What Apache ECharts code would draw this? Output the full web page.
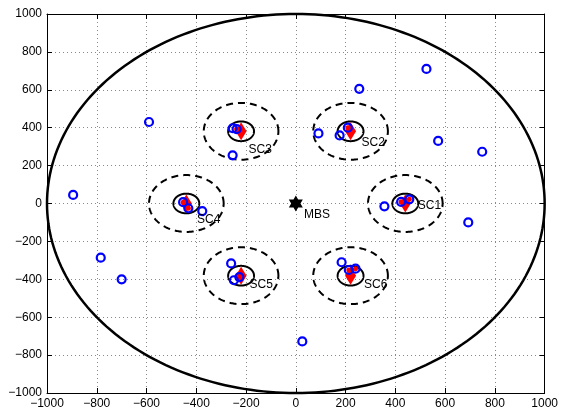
<!DOCTYPE html>
<html><head><meta charset="utf-8">
<script src="https://cdn.jsdelivr.net/npm/echarts@6/dist/echarts.min.js"></script>
<style>html,body{margin:0;padding:0;background:#fff}#c{width:561px;height:412px}</style>
</head><body><div id="c"></div>
<script>
// ---- data ----
const axisMin = -1000, axisMax = 1000, tickStep = 200;
const mbs = [0, 0];
const mbsLabel = 'MBS';
const mbsLabelPos = [31, -61];
const macroRadius = 1000;
const scNames = ['SC1', 'SC2', 'SC3', 'SC4', 'SC5', 'SC6'];
const scX = [440, 220, -220, -440, -220, 220];
const scY = [0, 381, 381, 0, -381, -381];
const scCoverRadius = 150;
const scInnerRadius = 52;
const scLabelX = [488, 262, -192, -399, -188, 272];
const scLabelY = [-13, 321, 282, -83, -430, -430];
const userX = [-590, -895, -254, -238, -254, 525, 255, 91, 176, 209, 572, 749, 356, 423, 456, 693, 184, 213, 240, 26, -784, -700, -260, -249, -227, -453, -432, -376];
const userY = [430, 45, 397, 393, 254, 710, 605, 370, 359, 400, 330, 273, -15, 9, 22, -100, -310, -351, -344, -728, -286, -400, -316, -405, -388, 7, -25, -40];
const servedX = [423, 456, 209, -238, -453, -432, -227, 213, 240];
const servedY = [9, 22, 400, 393, 7, -25, -388, -351, -344];

// ---- build ----
const font = 'Liberation Sans, Arial, sans-serif';
const minus = v => String(v).replace('-', '\u2212');
function ringRenderer(dashed, width) {
  return function (params, api) {
    const cx = api.value(0), cy = api.value(1), r = api.value(2);
    const pts = [];
    const n = 240;
    for (let i = 0; i <= n; i++) {
      const t = i / n * 2 * Math.PI;
      pts.push(api.coord([cx + r * Math.cos(t), cy + r * Math.sin(t)]));
    }
    return {
      type: 'polyline', shape: { points: pts },
      style: { stroke: '#000', fill: null, lineWidth: width, lineDash: dashed ? [7, 5] : null }
    };
  };
}
const hexagram = 'path://M0,-10 L2.887,-5 L8.66,-5 L5.774,0 L8.66,5 L2.887,5 L0,10 L-2.887,5 L-8.66,5 L-5.774,0 L-8.66,-5 L-2.887,-5 Z';

const baseX = {
  type: 'value', min: axisMin, max: axisMax, interval: tickStep,
  axisLine: { show: true, onZero: false, lineStyle: { color: '#000', width: 1 } },
  axisTick: { show: true, inside: true, length: 5, lineStyle: { color: '#000' } },
  splitLine: { show: false }
};
const option = {
  animation: false,
  grid: { left: 47, right: 15, top: 14, bottom: 19, containLabel: false },
  xAxis: [
    Object.assign({}, baseX, {
      position: 'bottom',
      axisLabel: { color: '#000', fontSize: 12, fontFamily: font, margin: 5, formatter: minus },
      splitLine: { show: true, lineStyle: { color: '#8a8a8a', type: [1, 3], width: 1 } }
    }),
    Object.assign({}, baseX, { position: 'top', axisLabel: { show: false } })
  ],
  yAxis: [
    Object.assign({}, baseX, {
      position: 'left',
      axisLabel: { color: '#000', fontSize: 12, fontFamily: font, margin: 5, formatter: minus },
      splitLine: { show: true, lineStyle: { color: '#8a8a8a', type: [1, 3], width: 1 } }
    }),
    Object.assign({}, baseX, { position: 'right', axisLabel: { show: false } })
  ],
  series: [
    { type: 'custom', silent: true, z: 2, renderItem: ringRenderer(false, 2.5),
      data: [[mbs[0], mbs[1], macroRadius]], encode: { x: 0, y: 1 }, clip: false },
    { type: 'custom', silent: true, z: 2, renderItem: ringRenderer(true, 2),
      data: scX.map((x, i) => [x, scY[i], scCoverRadius]), encode: { x: 0, y: 1 } },
    { type: 'custom', silent: true, z: 2, renderItem: ringRenderer(false, 2),
      data: scX.map((x, i) => [x, scY[i], scInnerRadius]), encode: { x: 0, y: 1 } },
    { type: 'scatter', z: 3, symbol: 'diamond', symbolSize: [11, 18],
      itemStyle: { color: '#ff0000', opacity: 1 }, data: scX.map((x, i) => [x, scY[i]]) },
    { type: 'scatter', z: 3, symbol: 'circle', symbolSize: 5,
      itemStyle: { color: '#ff0000', opacity: 1 }, data: servedX.map((x, i) => [x, servedY[i]]) },
    { type: 'scatter', z: 4, symbol: 'circle', symbolSize: 8,
      itemStyle: { color: 'rgba(0,0,0,0)', borderColor: '#0000ff', borderWidth: 2.2, opacity: 1 },
      data: userX.map((x, i) => [x, userY[i]]) },
    { type: 'scatter', z: 4, symbol: hexagram, symbolSize: [14, 16],
      itemStyle: { color: '#000', opacity: 1 }, data: [mbs] },
    { type: 'scatter', z: 5, symbolSize: 1, silent: true,
      itemStyle: { color: 'rgba(0,0,0,0)', opacity: 1 },
      label: { show: true, position: 'right', distance: 0, color: '#000', opacity: 1, fontSize: 12, fontFamily: font,
        formatter: p => p.data[2] },
      data: scLabelX.map((x, i) => [x, scLabelY[i], scNames[i]]).concat([[mbsLabelPos[0], mbsLabelPos[1], mbsLabel]]) }
  ]
};
const chart = echarts.init(document.getElementById('c'), null, { renderer: 'canvas' });
chart.setOption(option);
</script></body></html>
